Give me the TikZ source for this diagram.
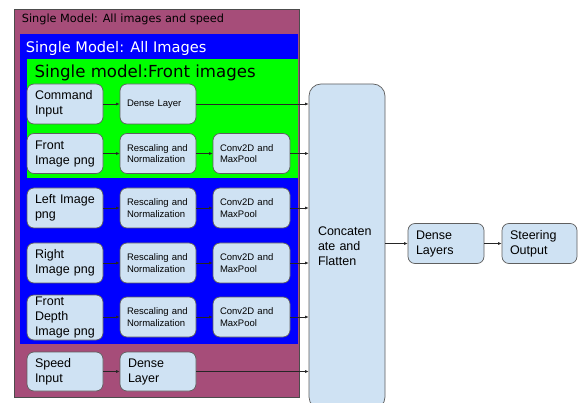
\documentclass[tikz,border=0pt]{standalone}
\usepackage{fontspec}
\setmainfont{Liberation Sans}
\newfontfamily\titlefont{DejaVu Sans}
\usetikzlibrary{arrows.meta}
\definecolor{frameplum}{HTML}{A64D79}
\definecolor{boxfill}{HTML}{CFE2F3}
\definecolor{boxline}{HTML}{5F5F5F}
\tikzset{
  block/.style={draw=boxline, fill=boxfill, line width=0.7pt, rounded corners=7pt,
    inner xsep=8pt, inner ysep=0pt, align=left, anchor=center,
    minimum height=40pt, text width=60pt},
  bigtext/.style={font=\fontsize{12.5}{15}\selectfont},
  smalltext/.style={font=\fontsize{9.5}{11.5}\selectfont, inner xsep=7pt, text width=62pt},
  flow/.style={draw=black!85, line width=0.6pt, -{Latex[length=3.5pt,width=3pt]}},
}
\begin{document}
\begin{tikzpicture}[x=1pt,y=-1pt]
\useasboundingbox (0,0) rectangle (578,403);
\clip (0,0) rectangle (578,403);
\fill[white] (0,0) rectangle (578,403);

% nested model frames
\draw[fill=frameplum, draw=black!70, line width=0.8pt] (14,9) rectangle (299,397);
\fill[blue] (20,34) rectangle (298,344);
\fill[green] (27,59) rectangle (298,178);

\node[anchor=base west, inner sep=0pt, font=\titlefont\fontsize{11.3}{13}\selectfont] (t1) at (21.7,22.7) {Single Model: All images and speed};
\node[anchor=base west, inner sep=0pt, text=white, font=\titlefont\fontsize{14.6}{17}\selectfont] (t2) at (25.7,52.7) {Single Model: All Images};
\node[anchor=base west, inner sep=0pt, font=\titlefont\fontsize{16.6}{19}\selectfont] (t3) at (34.3,77.3) {Single model:Front images};

% input column
\node[block, bigtext] (cmd)   at (65,104)   {Command\\Input};
\node[block, bigtext] (front) at (65,153.5) {Front\\Image png};
\node[block, bigtext] (left)  at (65,208)   {Left Image\\png};
\node[block, bigtext] (right) at (65,263)   {Right\\Image png};
\node[block, bigtext, minimum height=45pt] (depth) at (65,317.5) {Front\\Depth\\Image png};
\node[block, bigtext, minimum height=39pt] (speed) at (65,371.5) {Speed\\Input};

% preprocessing column
\node[block, smalltext] (dense1) at (158,104)   {Dense Layer};
\node[block, smalltext] (resc1)  at (158,153.5) {Rescaling and\\Normalization};
\node[block, smalltext] (resc2)  at (158,208)   {Rescaling and\\Normalization};
\node[block, smalltext] (resc3)  at (158,263)   {Rescaling and\\Normalization};
\node[block, smalltext] (resc4)  at (158,317)   {Rescaling and\\Normalization};
\node[block, bigtext, minimum height=39pt] (dense2) at (158,371.5) {Dense\\Layer};

% convolution column
\node[block, smalltext, text width=63pt] (conv1) at (251.5,153.5) {Conv2D and\\MaxPool};
\node[block, smalltext, text width=63pt] (conv2) at (251.5,208)   {Conv2D and\\MaxPool};
\node[block, smalltext, text width=63pt] (conv3) at (251.5,263)   {Conv2D and\\MaxPool};
\node[block, smalltext, text width=63pt] (conv4) at (251.5,317)   {Conv2D and\\MaxPool};

% merge and head
\node[block, bigtext, rounded corners=12pt, inner xsep=9pt, text width=58pt, minimum height=325pt] (concat) at (347,246.5) {Concaten\\ate and\\Flatten};
\node[block, bigtext] (dense3) at (446,243.5) {Dense\\Layers};
\node[block, bigtext, text width=59pt] (steer) at (539.5,243.5) {Steering\\Output};

% connectors
\draw[flow] (cmd) -- (dense1);
\draw[flow] (dense1.east) -- (dense1.east -| concat.west);
\draw[flow] (front) -- (resc1);
\draw[flow] (resc1) -- (conv1);
\draw[flow] (conv1.east) -- (conv1.east -| concat.west);
\draw[flow] (left) -- (resc2);
\draw[flow] (resc2) -- (conv2);
\draw[flow] (conv2.east) -- (conv2.east -| concat.west);
\draw[flow] (right) -- (resc3);
\draw[flow] (resc3) -- (conv3);
\draw[flow] (conv3.east) -- (conv3.east -| concat.west);
\draw[flow] (depth.east |- resc4.west) -- (resc4);
\draw[flow] (resc4) -- (conv4);
\draw[flow] (conv4.east) -- (conv4.east -| concat.west);
\draw[flow] (speed) -- (dense2);
\draw[flow] (dense2.east) -- (dense2.east -| concat.west);
\draw[flow] (concat.east |- dense3.west) -- (dense3);
\draw[flow] (dense3) -- (steer);
\end{tikzpicture}
\end{document}
